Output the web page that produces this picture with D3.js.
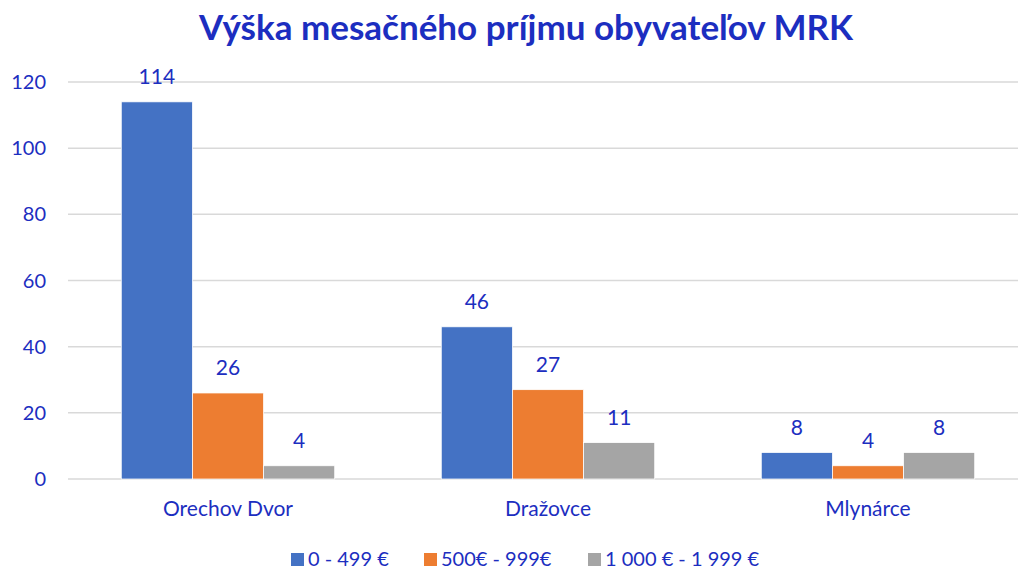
<!DOCTYPE html>
<html>
<head>
<meta charset="utf-8">
<script src="https://cdn.jsdelivr.net/npm/d3@7"></script>
<style>
body { margin: 0; background: #fff; }
text { font-family: Lato, "Open Sans", sans-serif; }
</style>
</head>
<body>
<script>
var WIDTH = 1018;
var HEIGHT = 571;
var TEXT_COLOR = "#1C2EC0";

var categories = ["Orechov Dvor", "Dražovce", "Mlynárce"];
var seriesNames = ["0 - 499 €", "500€ - 999€", "1 000 € - 1 999 €"];
var seriesColors = ["#4472C4", "#ED7D31", "#A5A5A5"];
var low = [114, 46, 8];
var mid = [26, 27, 4];
var high = [4, 11, 8];
var yTicks = [0, 20, 40, 60, 80, 100, 120];

var seriesValues = [low, mid, high];

var svg = d3.select("body").append("svg")
    .attr("width", WIDTH)
    .attr("height", HEIGHT);

// title
svg.append("text")
    .attr("x", 526)
    .attr("y", 40)
    .attr("text-anchor", "middle")
    .style("font-size", "35px")
    .style("font-weight", "bold")
    .style("fill", TEXT_COLOR)
    .text("Výška mesačného príjmu obyvateľov MRK");

var x0 = d3.scaleBand()
    .domain(categories)
    .range([68, 1028])
    .paddingInner(0.333)
    .paddingOuter(0.1665);

var x1 = d3.scaleBand()
    .domain(seriesNames)
    .range([0, x0.bandwidth()]);

var y = d3.scaleLinear()
    .domain([0, 120])
    .range([479, 82]);

// gridlines
svg.append("g").selectAll("line")
    .data(yTicks)
    .enter().append("line")
    .attr("x1", 68)
    .attr("x2", WIDTH)
    .attr("y1", function (d) { return y(d); })
    .attr("y2", function (d) { return y(d); })
    .style("stroke", "#D9D9D9")
    .style("stroke-width", 1.5);

// y axis labels
svg.append("g").selectAll("text")
    .data(yTicks)
    .enter().append("text")
    .attr("x", 46)
    .attr("y", function (d) { return y(d) + 7; })
    .attr("text-anchor", "end")
    .style("font-size", "20px")
    .style("fill", TEXT_COLOR)
    .text(function (d) { return d; });

var groups = svg.append("g").selectAll("g")
    .data(categories)
    .enter().append("g")
    .attr("transform", function (d) { return "translate(" + x0(d) + ",0)"; });

var bars = groups.selectAll("g")
    .data(function (c, ci) {
        return seriesNames.map(function (s, si) {
            return {series: s, value: seriesValues[si][ci], color: seriesColors[si]};
        });
    })
    .enter().append("g");

bars.append("rect")
    .attr("x", function (d) { return x1(d.series); })
    .attr("y", function (d) { return y(d.value); })
    .attr("width", x1.bandwidth())
    .attr("height", function (d) { return y(0) - y(d.value); })
    .style("fill", function (d) { return d.color; })
    .style("stroke", "#fff")
    .style("stroke-width", 0.75);

bars.append("text")
    .attr("x", function (d) { return x1(d.series) + x1.bandwidth() / 2; })
    .attr("y", function (d) { return y(d.value) - 18; })
    .attr("text-anchor", "middle")
    .style("font-size", "21px")
    .style("fill", TEXT_COLOR)
    .text(function (d) { return d.value; });

// category labels
svg.append("g").selectAll("text")
    .data(categories)
    .enter().append("text")
    .attr("x", function (d) { return x0(d) + x0.bandwidth() / 2; })
    .attr("y", 516)
    .attr("text-anchor", "middle")
    .style("font-size", "21px")
    .style("fill", TEXT_COLOR)
    .text(function (d) { return d; });

// legend
var legendX = [291, 424, 588];
var legend = svg.append("g").selectAll("g")
    .data(seriesNames)
    .enter().append("g")
    .attr("transform", function (d, i) { return "translate(" + legendX[i] + ",553)"; });

legend.append("rect")
    .attr("width", 13)
    .attr("height", 13)
    .style("fill", function (d, i) { return seriesColors[i]; });

legend.append("text")
    .attr("x", 17)
    .attr("y", 13)
    .style("font-size", "20px")
    .style("fill", TEXT_COLOR)
    .text(function (d) { return d; });
</script>
</body>
</html>
